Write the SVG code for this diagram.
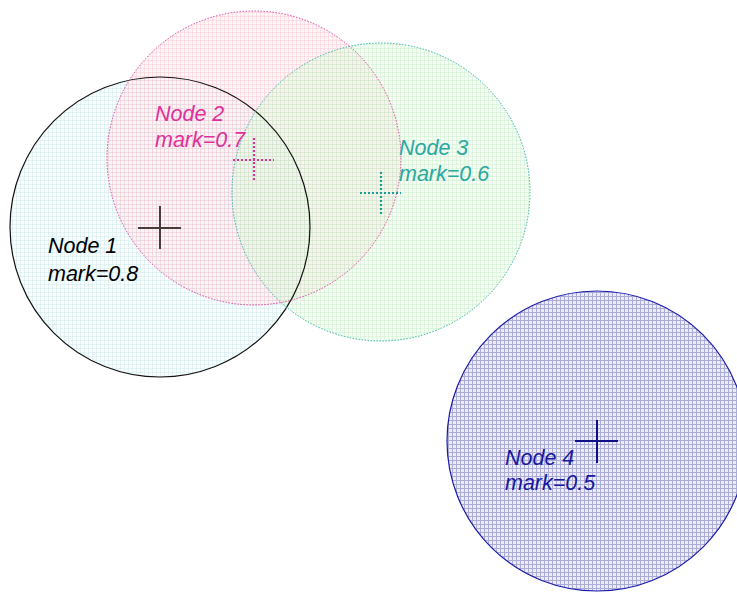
<svg xmlns="http://www.w3.org/2000/svg" width="737" height="594" viewBox="0 0 737 594">
<style>
text{font-family:"Liberation Sans",Arial,sans-serif;font-style:italic;font-size:21.5px}
.dot{stroke-dasharray:1.5 1.5;fill:none}
</style>
<defs>
<pattern id="p1" width="4" height="4" patternUnits="userSpaceOnUse">
<rect width="4" height="4" fill="#e0f6f6" fill-opacity="0.2"/>
<path d="M0 0.5H4M0.5 0V4" stroke="#b8e4e6" stroke-opacity="0.3"/>
</pattern>
<pattern id="p2" width="4" height="4" patternUnits="userSpaceOnUse">
<rect width="4" height="4" fill="#fde0e6" fill-opacity="0.3"/>
<path d="M0 0.5H4M0.5 0V4" stroke="#f8c0cc" stroke-opacity="0.4"/>
</pattern>
<pattern id="p3" width="4" height="4" patternUnits="userSpaceOnUse">
<rect width="4" height="4" fill="#e0f8e0" fill-opacity="0.3"/>
<path d="M0 0.5H4M0.5 0V4" stroke="#c0eec0" stroke-opacity="0.4"/>
</pattern>
<pattern id="p4" width="4" height="4" patternUnits="userSpaceOnUse">
<rect width="4" height="4" fill="#ececf8"/>
<path d="M0 0.5H4M0.5 0V4" stroke="#acacd8"/>
</pattern>
</defs>
<rect width="737" height="594" fill="#ffffff"/>
<g id="node1">
<circle cx="160" cy="227" r="150" fill="url(#p1)"/>
</g>
<g id="node2">
<circle cx="254" cy="158" r="147" fill="url(#p2)"/>
</g>
<g id="node3">
<circle cx="381" cy="192" r="149" fill="url(#p3)"/>
</g>
<g id="node4">
<circle cx="597" cy="441" r="150" fill="url(#p4)" stroke="#1a1aa8" stroke-width="1.2"/>
<path d="M575 441H618M597 420V463" stroke="#10108a" stroke-width="2"/>
<text x="505" y="465" fill="#1818a0">Node 4</text>
<text x="505" y="490" fill="#1818a0">mark=0.5</text>
</g>
<g id="outlines">
<circle cx="160" cy="227" r="150" fill="none" stroke="#111111" stroke-width="1.2"/>
<circle cx="254" cy="158" r="147" class="dot" stroke="#e040a0" stroke-width="1"/>
<circle cx="381" cy="192" r="149" class="dot" stroke="#30b0a8" stroke-width="1"/>
</g>
<g id="labels">
<path d="M138 228H181M160 206V249" stroke="#4a3a3a" stroke-width="2"/>
<text x="48" y="253" fill="#000000">Node 1</text>
<text x="48" y="281" fill="#000000">mark=0.8</text>
<path d="M233 160H274M254 138V181" stroke="#e0309a" stroke-width="2.2" stroke-dasharray="2 2" fill="none"/>
<text x="155" y="121" fill="#e0309a">Node 2</text>
<text x="155" y="147" fill="#e0309a">mark=0.7</text>
<path d="M360 193H401M381 172V215" stroke="#1a9e96" stroke-width="2.2" stroke-dasharray="2 2" fill="none"/>
<text x="399" y="155" fill="#2aa8a0">Node 3</text>
<text x="399" y="181" fill="#2aa8a0">mark=0.6</text>
</g>
</svg>
